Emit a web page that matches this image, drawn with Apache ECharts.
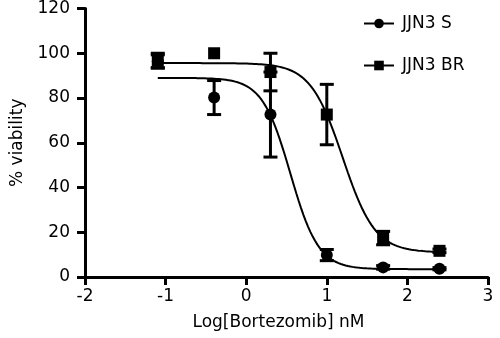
<!DOCTYPE html>
<html>
<head>
<meta charset="utf-8">
<script src="https://cdn.jsdelivr.net/npm/echarts@6/dist/echarts.min.js"></script>
<style>html,body{margin:0;padding:0;background:#fff}#c{width:500px;height:338px}</style>
</head>
<body>
<div id="c"></div>
<script>
// log10 of bortezomib concentrations (nM)
var logDose = [-1.097, -0.398, 0.301, 1.0, 1.699, 2.398];
// JJN3 S: mean % viability and error (SD)
var sMean = [96.3, 80.2, 72.6, 9.8, 4.3, 3.7];
var sErr  = [3.0, 7.6, 19.0, 2.5, 0.8, 0.5];
// JJN3 BR
var brMean = [96.8, 100.0, 91.6, 72.6, 17.4, 11.7];
var brErr  = [3.2, 0.0, 8.4, 13.5, 3.0, 0.8];
// four-parameter logistic fit parameters: [bottom, top, logIC50, hill]
var fitS  = [3.5, 89.0, 0.548, 2.48];
var fitBR = [11.0, 95.6, 1.198, 2.164];
var xTicks = [-2, -1, 0, 1, 2, 3];
var yTicks = [0, 20, 40, 60, 80, 100, 120];

function fitCurve(p, x0, x1) {
  var out = [];
  var n = 120;
  for (var i = 0; i <= n; i++) {
    var x = x0 + (x1 - x0) * i / n;
    out.push([x, p[0] + (p[1] - p[0]) / (1 + Math.pow(10, (x - p[2]) * p[3]))]);
  }
  return out;
}
function pts(m) { return logDose.map(function (x, i) { return [x, m[i]]; }); }
function errs(m, e) {
  var out = [];
  logDose.forEach(function (x, i) { if (e[i] > 0) out.push([x, m[i] - e[i], m[i] + e[i]]); });
  return out;
}

function errRender(params, api) {
  var x = api.value(0);
  var lo = api.coord([x, api.value(1)]);
  var hi = api.coord([x, api.value(2)]);
  var w = 7;
  var st = { stroke: '#000', lineWidth: 3 };
  return {
    type: 'group',
    children: [
      { type: 'line', shape: { x1: lo[0], y1: lo[1], x2: hi[0], y2: hi[1] }, style: st },
      { type: 'line', shape: { x1: lo[0] - w, y1: lo[1], x2: lo[0] + w, y2: lo[1] }, style: st },
      { type: 'line', shape: { x1: hi[0] - w, y1: hi[1], x2: hi[0] + w, y2: hi[1] }, style: st }
    ]
  };
}

var font = 'DejaVu Sans';
var chart = echarts.init(document.getElementById('c'), null, { renderer: 'canvas' });
chart.setOption({
  animation: false,
  backgroundColor: '#fff',
  textStyle: { fontFamily: font },
  grid: { left: 85, right: 12, top: 8.5, bottom: 61 },
  xAxis: {
    type: 'value', min: xTicks[0], max: xTicks[xTicks.length - 1], interval: 1,
    name: 'Log[Bortezomib] nM', nameLocation: 'middle', nameGap: 37,
    nameTextStyle: { fontSize: 17, color: '#000', fontFamily: font, padding: [0, 16, 0, 0] },
    axisLine: { onZero: false, lineStyle: { color: '#000', width: 3 } },
    axisTick: { show: true, length: 8, lineStyle: { color: '#000', width: 3 } },
    axisLabel: { fontSize: 17, color: '#000', margin: 11, fontFamily: font },
    splitLine: { show: false }
  },
  yAxis: {
    type: 'value', min: yTicks[0], max: yTicks[yTicks.length - 1], interval: 20,
    name: '% viability', nameLocation: 'middle', nameGap: 59,
    nameTextStyle: { fontSize: 17, color: '#000', fontFamily: font },
    axisLine: { show: true, onZero: false, lineStyle: { color: '#000', width: 3 } },
    axisTick: { show: true, length: 8, lineStyle: { color: '#000', width: 3 } },
    axisLabel: { fontSize: 17, color: '#000', margin: 15, fontFamily: font },
    splitLine: { show: false }
  },
  legend: [
    { data: ['JJN3 S'], left: 363, top: 15, padding: 0, itemWidth: 30, itemHeight: 12,
      textStyle: { fontSize: 17, color: '#000', fontFamily: font, padding: [0, 0, 0, 3] } },
    { data: ['JJN3 BR'], left: 363, top: 57, padding: 0, itemWidth: 30, itemHeight: 12,
      textStyle: { fontSize: 17, color: '#000', fontFamily: font, padding: [0, 0, 0, 3] } }
  ],
  series: [
    { name: 'JJN3 S', type: 'line', data: fitCurve(fitS, logDose[0], logDose[5]), showSymbol: false,
      symbol: 'circle', symbolSize: 12, itemStyle: { color: '#000', opacity: 1 }, lineStyle: { color: '#000', width: 2 }, z: 2 },
    { name: 'JJN3 BR', type: 'line', data: fitCurve(fitBR, logDose[0], logDose[5]), showSymbol: false,
      symbol: 'rect', symbolSize: 12, itemStyle: { color: '#000', opacity: 1 }, lineStyle: { color: '#000', width: 2 }, z: 2 },
    { name: 'JJN3 S', type: 'custom', renderItem: errRender, data: errs(sMean, sErr), z: 3 },
    { name: 'JJN3 BR', type: 'custom', renderItem: errRender, data: errs(brMean, brErr), z: 3 },
    { name: 'JJN3 S', type: 'scatter', symbol: 'circle', symbolSize: 12, data: pts(sMean),
      itemStyle: { color: '#000', opacity: 1, borderWidth: 0 }, z: 4 },
    { name: 'JJN3 BR', type: 'scatter', symbol: 'rect', symbolSize: 12, data: pts(brMean),
      itemStyle: { color: '#000', opacity: 1, borderWidth: 0 }, z: 4 }
  ]
});
</script>
</body>
</html>
